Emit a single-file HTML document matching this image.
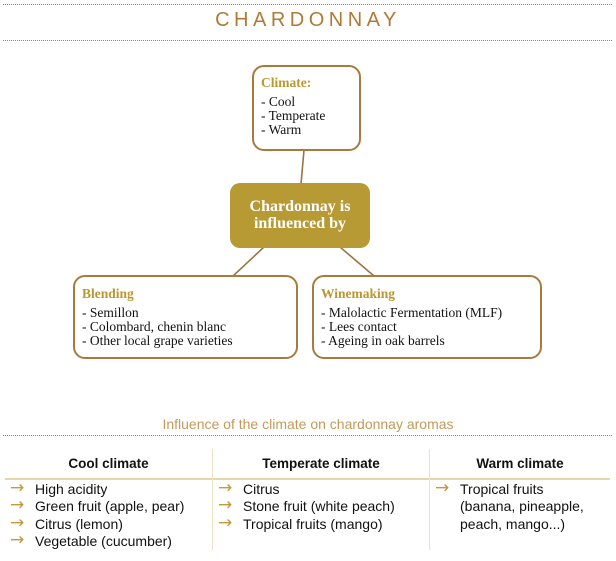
<!DOCTYPE html>
<html><head><meta charset="utf-8"><style>
body{margin:0;width:616px;height:561px;background:#fff;position:relative;overflow:hidden;font-family:"Liberation Serif",serif}
.a{position:absolute}
.dot{position:absolute;left:3px;width:609px;border-top:1px dotted #b07f35}
.box{position:absolute;border:2px solid #a87a3c;border-radius:12px;background:#fff;box-sizing:border-box;font-size:13.5px;line-height:14px;color:#111}
.box b{display:block;color:#b8982f;font-size:13.5px;margin-bottom:5px}
.s{font-family:"Liberation Sans",sans-serif}
.col{position:absolute;top:448px;font-family:"Liberation Sans",sans-serif;font-size:14px;color:#111}
.col h{display:block;text-align:center;font-weight:bold;font-size:13.5px;height:31px;line-height:31px}
.li{position:relative;padding-left:30px;line-height:17.3px;top:2px}
.li:before{content:"→";position:absolute;left:5px;top:-1px;color:#c39a3a;font-size:17px;font-family:"DejaVu Sans",sans-serif}
</style></head><body>
<div class="dot" style="top:4px"></div>
<div class="a s" style="left:0;width:616px;top:9px;text-align:center;font-size:20px;letter-spacing:4.5px;color:#b07a35">CHARDONNAY</div>
<div class="dot" style="top:40px"></div>
<svg class="a" style="left:0;top:0" width="616" height="400"><g stroke="#9c7443" stroke-width="1.6"><line x1="304" y1="150" x2="301" y2="184"/><line x1="264" y1="247" x2="233" y2="276"/><line x1="340" y1="247" x2="374" y2="276"/></g></svg>
<div class="box" style="left:252px;top:65px;width:109px;height:86px;padding:9px 0 0 7px"><b>Climate:</b>- Cool<br>- Temperate<br>- Warm</div>
<div class="a" style="left:230px;top:183px;width:140px;height:65px;background:#b89a35;border-radius:10px;color:#fff;font-weight:bold;font-size:16px;line-height:17px;text-align:center;box-sizing:border-box;padding-top:15px">Chardonnay is<br>influenced by</div>
<div class="box" style="left:73px;top:275px;width:225px;height:84px;padding:10px 0 0 7px"><b>Blending</b>- Semillon<br>- Colombard, chenin blanc<br>- Other local grape varieties</div>
<div class="box" style="left:312px;top:275px;width:230px;height:84px;padding:10px 0 0 7px"><b>Winemaking</b>- Malolactic Fermentation (MLF)<br>- Lees contact<br>- Ageing in oak barrels</div>
<div class="a s" style="left:0;width:616px;top:416px;text-align:center;font-size:14px;color:#c39a5a">Influence of the climate on chardonnay aromas</div>
<div class="dot" style="top:435px"></div>
<div class="a" style="left:5px;top:478px;width:605px;height:2px;background:#e6d7a8"></div>
<div class="a" style="left:212px;top:449px;width:1px;height:101px;background:#eee3c4"></div>
<div class="a" style="left:429px;top:449px;width:1px;height:101px;background:#eee3c4"></div>
<div class="col" style="left:5px;width:207px"><h>Cool climate</h><div class="li">High acidity</div><div class="li">Green fruit (apple, pear)</div><div class="li">Citrus (lemon)</div><div class="li">Vegetable (cucumber)</div></div>
<div class="col" style="left:213px;width:216px"><h>Temperate climate</h><div class="li">Citrus</div><div class="li">Stone fruit (white peach)</div><div class="li">Tropical fruits (mango)</div></div>
<div class="col" style="left:430px;width:180px"><h>Warm climate</h><div class="li">Tropical fruits<br>(banana, pineapple,<br>peach, mango...)</div></div>
</body></html>
